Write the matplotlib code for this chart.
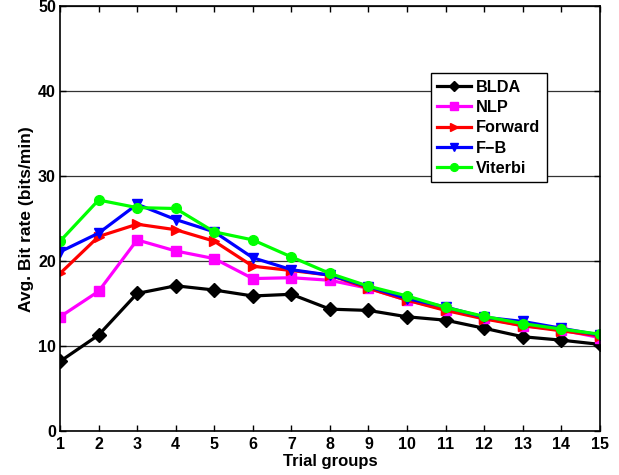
import matplotlib
matplotlib.use("Agg")
import matplotlib.pyplot as plt

plt.rcParams['font.family'] = ['Liberation Sans', 'DejaVu Sans']
plt.rcParams['font.weight'] = 'bold'

trials = list(range(1, 16))
blda = [8.2, 11.3, 16.2, 17.1, 16.6, 15.9, 16.1, 14.35, 14.2, 13.45, 13.05, 12.1, 11.1, 10.7, 10.2]
nlp = [13.45, 16.45, 22.5, 21.2, 20.3, 17.95, 18.05, 17.75, 16.8, 15.4, 14.3, 13.3, 12.4, 11.9, 11.0]
forward = [18.55, 22.9, 24.35, 23.7, 22.35, 19.4, 18.9, 18.35, 16.8, 15.4, 14.2, 13.2, 12.4, 11.8, 11.2]
fb = [21.1, 23.3, 26.7, 24.9, 23.45, 20.4, 19.0, 18.35, 17.0, 15.6, 14.6, 13.4, 12.9, 12.1, 11.3]
viterbi = [22.35, 27.2, 26.3, 26.2, 23.45, 22.5, 20.5, 18.55, 17.05, 15.9, 14.55, 13.5, 12.65, 12.0, 11.4]

series = [
    ("BLDA", blda, "black", "D"),
    ("NLP", nlp, "#ff00ff", "s"),
    ("Forward", forward, "red", ">"),
    ("F\u2212B", fb, "blue", "v"),
    ("Viterbi", viterbi, "#00ff00", "o"),
]

fig = plt.figure(figsize=(6.19, 4.75), dpi=100)
ax = fig.add_axes([0.097, 0.0926, 0.872, 0.894])

for label, vals, color, marker in series:
    ax.plot(trials, vals, color=color, marker=marker, lw=2.3, ms=7,
            markerfacecolor=color, markeredgecolor=color, label=label)

ax.set_xlim(1, 15)
ax.set_ylim(0, 50)
ax.set_xticks(trials)
ax.set_yticks([0, 10, 20, 30, 40, 50])
ax.yaxis.grid(True, color='#333333', lw=0.9, ls='-')
ax.set_axisbelow(True)
ax.tick_params(direction='in', top=True, right=True, labelsize=11.5, length=4, width=1)
ax.tick_params(axis='x', pad=4)
ax.tick_params(axis='y', pad=3)
for lab in ax.get_xticklabels() + ax.get_yticklabels():
    lab.set_fontweight('bold')
for s in ax.spines.values():
    s.set_linewidth(1.2)

ax.set_xlabel("Trial groups", fontsize=12, fontweight='bold', labelpad=2)
ax.set_ylabel("Avg. Bit rate (bits/min)", fontsize=12.5, fontweight='bold', labelpad=3)

leg = ax.legend(loc='upper left', bbox_to_anchor=(0.687, 0.843), fontsize=11.7,
                frameon=True, fancybox=False, edgecolor='black', framealpha=1,
                handlelength=2.1, markerscale=0.8, borderpad=0.4, labelspacing=0.33,
                handletextpad=0.3, borderaxespad=0)
leg.get_frame().set_linewidth(1.0)
for t in leg.get_texts():
    t.set_fontweight('bold')

fig.savefig("out.png", dpi=100)
